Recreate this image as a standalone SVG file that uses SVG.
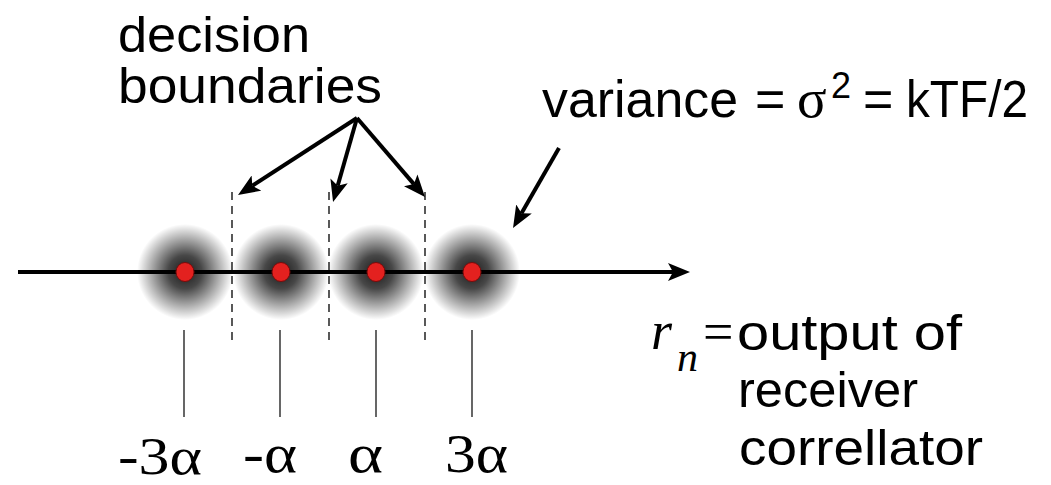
<svg xmlns="http://www.w3.org/2000/svg" width="1051" height="485" viewBox="0 0 1051 485">
  <style>
    .sans { font-family: "Liberation Sans", Arial, sans-serif; fill: #000; }
    .serif { font-family: "Liberation Serif", "Times New Roman", serif; fill: #000; }
    .arrow { stroke: #000; stroke-width: 4; fill: none; marker-end: url(#head); }
    .dash { stroke: #000; stroke-width: 1.3; stroke-dasharray: 8 6; fill: none; }
    .tick { stroke: #000; stroke-width: 1.2; fill: none; }
    .dot { fill: #e3211f; stroke: #7a0a0a; stroke-width: 1; }
    .halo { fill: url(#haloGrad); }
  </style>
  <defs>
    <radialGradient id="haloGrad" cx="0.5" cy="0.5" r="0.5">
      <stop offset="0" stop-color="#000" stop-opacity="0.9"/>
      <stop offset="0.35" stop-color="#000" stop-opacity="0.72"/>
      <stop offset="0.7" stop-color="#000" stop-opacity="0.33"/>
      <stop offset="1" stop-color="#000" stop-opacity="0"/>
    </radialGradient>
    <marker id="head" markerUnits="userSpaceOnUse" markerWidth="22" markerHeight="18" viewBox="0 0 22 18" refX="5" refY="9" orient="auto">
      <path d="M0,0 L22,9 L0,18 L5,9 Z" fill="#000"/>
    </marker>
  </defs>

  <g id="halos">
    <circle class="halo" cx="185" cy="272" r="48"/>
    <circle class="halo" cx="281" cy="272" r="48"/>
    <circle class="halo" cx="376" cy="272" r="48"/>
    <circle class="halo" cx="472" cy="272" r="48"/>
  </g>

  <g id="boundaries">
    <line class="dash" x1="232" y1="192" x2="232" y2="340"/>
    <line class="dash" x1="329" y1="192" x2="329" y2="340"/>
    <line class="dash" x1="425" y1="192" x2="425" y2="340"/>
  </g>

  <g id="connectors">
    <line class="arrow" x1="18" y1="272" x2="673" y2="272"/>
    <line class="arrow" x1="357" y1="118" x2="252.3" y2="185.8"/>
    <line class="arrow" x1="357" y1="118" x2="337.7" y2="185.7"/>
    <line class="arrow" x1="357" y1="118" x2="413.9" y2="184.1"/>
    <line class="arrow" x1="559" y1="148" x2="521.5" y2="213.3"/>
  </g>

  <g id="points">
    <ellipse class="dot" cx="185" cy="272" rx="9" ry="9.5"/>
    <ellipse class="dot" cx="281" cy="272" rx="9" ry="9.5"/>
    <ellipse class="dot" cx="376" cy="272" rx="9" ry="9.5"/>
    <ellipse class="dot" cx="472" cy="272" rx="9" ry="9.5"/>
  </g>

  <g id="ticks">
    <line class="tick" x1="184" y1="330" x2="184" y2="417"/>
    <line class="tick" x1="280" y1="330" x2="280" y2="417"/>
    <line class="tick" x1="376" y1="330" x2="376" y2="417"/>
    <line class="tick" x1="472" y1="330" x2="472" y2="417"/>
  </g>

  <g id="level-labels">
    <text class="serif" x="118" y="474" font-size="52" textLength="84" lengthAdjust="spacingAndGlyphs">-3α</text>
    <text class="serif" x="243" y="472" font-size="54" textLength="54" lengthAdjust="spacingAndGlyphs">-α</text>
    <text class="serif" x="348" y="472" font-size="54" textLength="35" lengthAdjust="spacingAndGlyphs">α</text>
    <text class="serif" x="445" y="472" font-size="54" textLength="63" lengthAdjust="spacingAndGlyphs">3α</text>
  </g>

  <g id="decision-label">
    <text class="sans" x="118" y="52" font-size="50" textLength="192" lengthAdjust="spacingAndGlyphs">decision</text>
    <text class="sans" x="118" y="103" font-size="50" textLength="264" lengthAdjust="spacingAndGlyphs">boundaries</text>
  </g>

  <g id="variance-label">
    <text class="sans" x="542" y="117" font-size="52" textLength="196" lengthAdjust="spacingAndGlyphs">variance</text>
    <text class="sans" x="755" y="117" font-size="52">=</text>
    <text class="serif" x="797" y="117" font-size="55">σ</text>
    <text class="sans" x="831" y="98" font-size="36">2</text>
    <text class="sans" x="863" y="117" font-size="52">=</text>
    <text class="sans" x="906" y="117" font-size="52" textLength="122" lengthAdjust="spacingAndGlyphs">kTF/2</text>
  </g>

  <g id="rn-label">
    <text class="serif" x="651" y="349" font-size="54" font-style="italic">r</text>
    <text class="serif" x="677" y="371" font-size="42" font-style="italic">n</text>
    <text class="serif" x="703" y="350" font-size="54">=</text>
    <text class="sans" x="737" y="350" font-size="50" textLength="225" lengthAdjust="spacingAndGlyphs">output of</text>
    <text class="sans" x="738" y="407" font-size="50" textLength="180" lengthAdjust="spacingAndGlyphs">receiver</text>
    <text class="sans" x="739" y="465" font-size="50" textLength="244" lengthAdjust="spacingAndGlyphs">correllator</text>
  </g>
</svg>
